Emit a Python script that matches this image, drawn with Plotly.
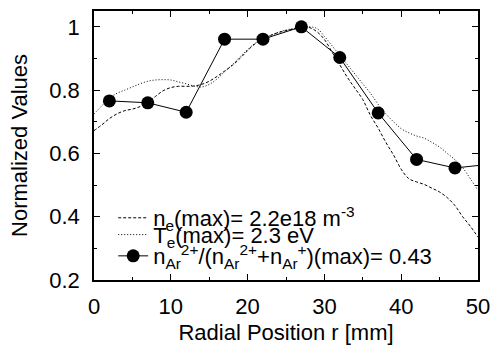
import plotly.graph_objects as go

# Data
r_curve = list(range(0, 51))
ne_norm = [0.672, 0.69, 0.71, 0.725, 0.735, 0.74, 0.748, 0.76, 0.78, 0.798,
           0.808, 0.812, 0.812, 0.813, 0.818, 0.828, 0.843, 0.86, 0.878, 0.9,
           0.925, 0.947, 0.962, 0.973, 0.982, 0.988, 0.993, 0.998, 0.998, 0.985,
           0.96, 0.92, 0.88, 0.84, 0.805, 0.77, 0.72, 0.68, 0.635, 0.595,
           0.55, 0.52, 0.51, 0.502, 0.49, 0.478, 0.46, 0.435, 0.4, 0.37, 0.335]
te_norm = [0.725, 0.75, 0.775, 0.79, 0.80, 0.81, 0.82, 0.828, 0.832, 0.833,
           0.832, 0.826, 0.82, 0.813, 0.81, 0.818, 0.835, 0.858, 0.88, 0.905,
           0.928, 0.948, 0.962, 0.973, 0.982, 0.99, 0.995, 0.998, 1.0, 0.995,
           0.97, 0.94, 0.91, 0.88, 0.85, 0.82, 0.79, 0.755, 0.725, 0.70,
           0.678, 0.665, 0.655, 0.648, 0.635, 0.62, 0.60, 0.58, 0.555, 0.52, 0.483]
r_points = [2, 7, 12, 17, 22, 27, 32, 37, 42, 47, 52]
ratio_norm = [0.766, 0.760, 0.730, 0.961, 0.961, 1.0, 0.903, 0.728, 0.581, 0.554, 0.567]

x_ticks = [0, 10, 20, 30, 40, 50]
y_ticks = [0.2, 0.4, 0.6, 0.8, 1.0]
y_tick_text = ["0.2", "0.4", "0.6", "0.8", "1"]

FONT = "Liberation Sans, Arial, Helvetica, sans-serif"
FS = 22

fig = go.Figure()
fig.add_trace(go.Scatter(
    x=r_curve, y=ne_norm, mode="lines", line_shape="spline",
    line=dict(color="black", width=1, dash="3px,2px"),
    name="n<sub>e</sub>(max)= 2.2e18 m<sup>-3</sup>", legend="legend"))
fig.add_trace(go.Scatter(
    x=r_curve, y=te_norm, mode="lines", line_shape="spline",
    line=dict(color="black", width=1, dash="1px,2px"),
    name="T<sub>e</sub>(max)= 2.3 eV", legend="legend2"))
fig.add_trace(go.Scatter(
    x=r_points, y=ratio_norm, mode="lines+markers",
    line=dict(color="black", width=1),
    marker=dict(color="black", size=13, symbol="circle"),
    name="n<sub>Ar</sub><sup>2+</sup>/(n<sub>Ar</sub><sup>2+</sup>+n<sub>Ar</sub><sup>+</sup>)(max)= 0.43",
    legend="legend3"))

axis_common = dict(
    showgrid=False, zeroline=False, showline=True, linecolor="black", linewidth=1.5,
    mirror="ticks", ticks="inside", ticklen=6, tickwidth=1, tickcolor="black",
    tickfont=dict(family=FONT, size=FS, color="black"), automargin=False,
)

fig.update_xaxes(
    range=[0, 50], tickvals=x_ticks, ticklabelstandoff=6,
    minor=dict(ticks="inside", dtick=5, ticklen=3, tickcolor="black", showgrid=False),
    title=dict(text="Radial Position r [mm]", font=dict(family=FONT, size=FS, color="black"), standoff=6),
    **axis_common)
fig.update_yaxes(
    range=[0.2, 1.05], tickvals=y_ticks, ticktext=y_tick_text, ticklabelstandoff=8,
    minor=dict(ticks="inside", dtick=0.1, tick0=0.2, ticklen=3, tickcolor="black", showgrid=False),
    title=dict(text="Normalized Values", font=dict(family=FONT, size=FS, color="black"), standoff=16),
    **axis_common)

leg_common = dict(x=0.05, xanchor="left", yanchor="middle",
                  bgcolor="rgba(0,0,0,0)", borderwidth=0,
                  font=dict(family=FONT, size=FS, color="black"),
                  tracegroupgap=0, itemwidth=30)

fig.update_layout(
    width=496, height=351,
    margin=dict(l=94, r=18, t=11, b=71),
    paper_bgcolor="white", plot_bgcolor="white",
    font=dict(family=FONT, size=FS, color="black"),
    showlegend=True,
    legend=dict(y=0.2305, **leg_common),
    legend2=dict(y=0.168, **leg_common),
    legend3=dict(y=0.089, **leg_common),
)

fig.write_html("out.html",
               config={"displayModeBar": False},
               post_script="document.body.style.margin='0';document.body.style.padding='0';")
